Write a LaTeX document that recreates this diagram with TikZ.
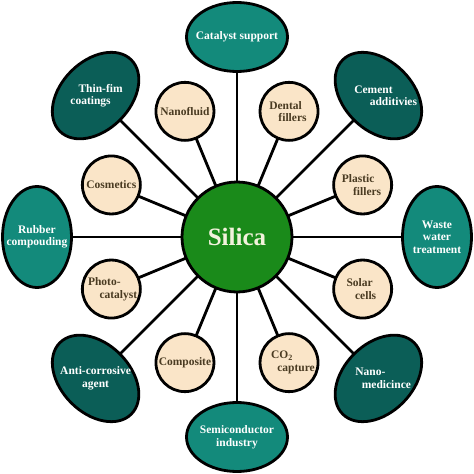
\documentclass[tikz,border=0pt]{standalone}
\usepackage{fontspec}
\setmainfont{Liberation Serif}
\usetikzlibrary{shapes.geometric,backgrounds}
\definecolor{tealL}{HTML}{138A7B}
\definecolor{tealD}{HTML}{0B5E57}
\definecolor{silgreen}{HTML}{1A8A1A}
\definecolor{beige}{HTML}{FAE5C8}
\definecolor{intext}{HTML}{4A3B22}
\definecolor{silt}{HTML}{F2F2DC}
\newcommand\twol[3]{#1\hspace*{#3}\\\hspace*{#3}#2}
\begin{document}
\begin{tikzpicture}[x=1pt,y=1pt,
  ell/.style={ellipse, draw=black, line width=2.8pt, minimum width=101pt, minimum height=69pt, inner sep=0pt},
  elltext/.style={text=white, font=\fontsize{11.5}{12.5}\selectfont\bfseries, align=center, inner sep=0pt},
  inn/.style={circle, draw=black, line width=2.8pt, fill=beige, minimum size=58pt, inner sep=0pt, text=intext, font=\fontsize{11.5}{12.5}\selectfont\bfseries, align=center},
  link/.style={line width=2.8pt, draw=black}]
\useasboundingbox (-237,-237) rectangle (237,237);
\node[circle, draw=black, line width=2.8pt, fill=silgreen, minimum size=110pt, text=silt, font=\fontsize{25}{30}\selectfont\bfseries] (silica) at (0,0) {Silica};
% outer ellipses
\node[ell, fill=tealL] (cat) at (90:200) {};
\node[elltext] (catT) at (cat) {Catalyst support};
\node[ell, fill=tealD, rotate=45] (thin) at (135:200) {};
\node[elltext] (thinT) at (thin) {\twol{Thin-fim}{coatings}{-10pt}};
\node[ell, fill=tealL, rotate=90] (rub) at (180:200) {};
\node[elltext] (rubT) at (rub) {Rubber\\compouding};
\node[ell, fill=tealD, rotate=135] (anti) at (225:200) {};
\node[elltext] (antiT) at (anti) {Anti-corrosive\\agent};
\node[ell, fill=tealL] (semi) at (270:200) {};
\node[elltext] (semiT) at (semi) {Semiconductor\\industry};
\node[ell, fill=tealD, rotate=45] (nano) at (315:200) {};
\node[elltext] (nanoT) at (nano) {\twol{Nano-}{medicince}{16pt}};
\node[ell, fill=tealL, rotate=90] (waste) at (0:200) {};
\node[elltext] (wasteT) at (waste) {Waste\\water\\treatment};
\node[ell, fill=tealD, rotate=135] (cem) at (45:200) {};
\node[elltext] (cemT) at ([xshift=5pt]cem.center) {\twol{Cement}{additivies}{20pt}};
% inner circles
\node[inn] (nf) at (112.5:136) {Nanofluid};
\node[inn] (df) at (67.5:136) {\twol{Dental}{fillers}{7pt}};
\node[inn] (pf) at (22.5:136) {\twol{Plastic}{fillers}{9pt}};
\node[inn] (sc) at (-22.5:136) {\twol{Solar}{cells}{6pt}};
\node[inn] (co) at (-67.5:136) {\twol{CO\textsubscript{2}}{capture}{14pt}};
\node[inn] (cp) at (-112.5:136) {Composite};
\node[inn] (pc) at (-157.5:136) {\twol{Photo-}{catalyst}{14pt}};
\node[inn] (cs) at (157.5:136) {Cosmetics};
\begin{scope}[on background layer]
  \foreach \n in {cat,thin,rub,anti,semi,nano,waste,cem,nf,df,pf,sc,co,cp,pc,cs}
    \draw[link] (silica.center) -- (\n.center);
\end{scope}
\end{tikzpicture}
\end{document}
